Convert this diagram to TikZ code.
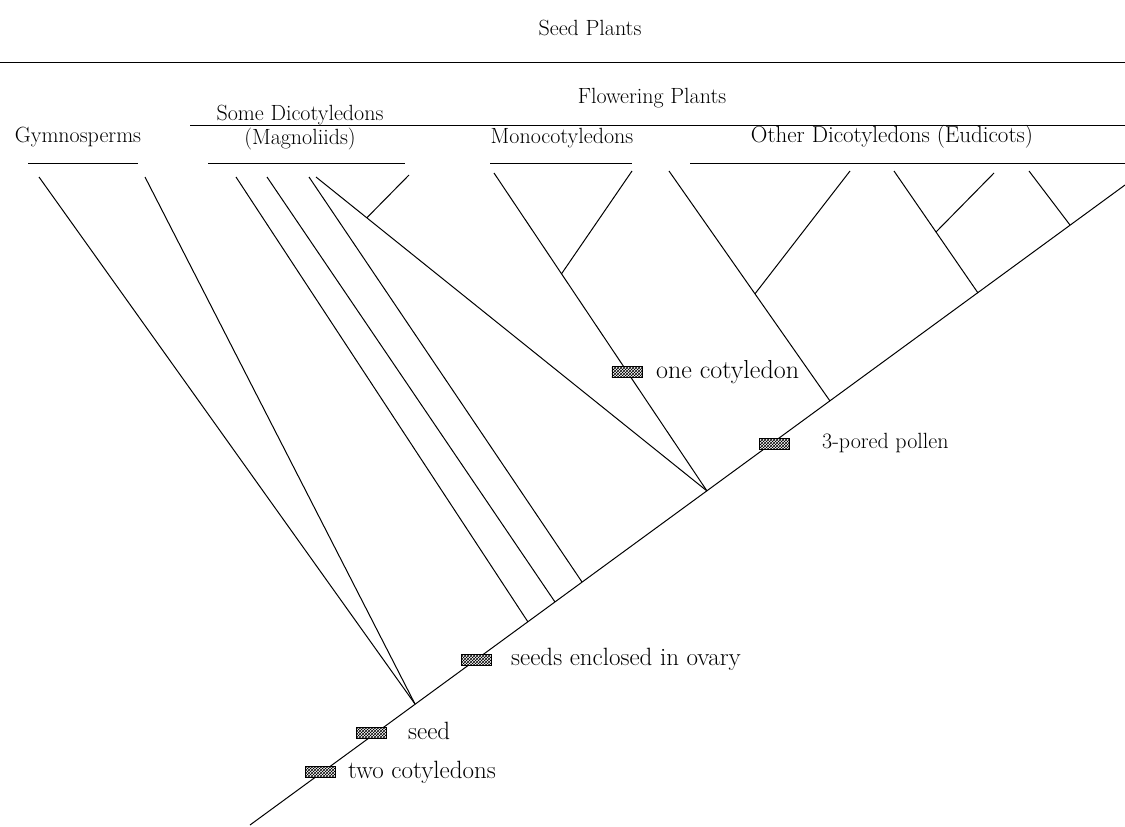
\documentclass[tikz,border=0pt]{standalone}
\usepackage{fontspec}
\usetikzlibrary{patterns,calc}
\begin{document}
\begin{tikzpicture}[x=1pt,y=-1pt,
  branch/.style={line width=1pt},
  rulel/.style={line width=1pt},
  grp/.style={inner sep=0pt, font=\fontsize{22}{24}\selectfont},
  note/.style={inner sep=0pt, anchor=west, font=\fontsize{25}{27}\selectfont},
  smallnote/.style={inner sep=0pt, anchor=west, font=\fontsize{22}{24}\selectfont},
  charmark/.style={draw, line width=0.8pt, preaction={fill=white}, pattern=crosshatch, minimum width=30pt, minimum height=11pt, inner sep=0pt}]
\useasboundingbox (0,0) rectangle (1125,827);

% group labels
\node[grp] (seedpl) at (590,28) {Seed Plants};
\node[grp] (flowpl) at (652,98) {Flowering Plants};
\node[grp] (gym) at (78,137) {Gymnosperms};
\node[grp, align=center] (mag) at (300,128) {Some Dicotyledons\\(Magnoliids)};
\node[grp] (mono) at (562,138) {Monocotyledons};
\node[grp, font=\fontsize{23}{25}\selectfont] (eud) at (892,137) {Other Dicotyledons (Eudicots)};

% horizontal rules
\coordinate (s1) at (0,62);    \coordinate (s2) at (1125,62);
\coordinate (f1) at (190,125); \coordinate (f2) at (1125,125);
\coordinate (g1) at (28,163);  \coordinate (g2) at (138,163);
\coordinate (m1) at (208,163); \coordinate (m2) at (405,163);
\coordinate (n1) at (490,163); \coordinate (n2) at (632,163);
\coordinate (e1) at (690,163); \coordinate (e2) at (1125,163);
\draw[rulel] (s1) -- (s2);
\draw[rulel] (f1) -- (f2);
\draw[rulel] (g1) -- (g2);
\draw[rulel] (m1) -- (m2);
\draw[rulel] (n1) -- (n2);
\draw[rulel] (e1) -- (e2);

% trunk
\coordinate (root) at (250,825);
\coordinate (tip) at (1125,185);
\draw[branch] (root) -- (tip);

% joins on trunk
\coordinate (jg) at (415,704);
\coordinate (jm1) at (528,622);
\coordinate (jm2) at (555,602);
\coordinate (jm3) at (582,582);
\coordinate (jmono) at (707,491);
\coordinate (je1) at (830,401);
\coordinate (je2) at (978,293);
\coordinate (je3) at (1070,225);

% leaf tops
\coordinate (tg1) at (39,177);
\coordinate (tg2) at (145,177);
\coordinate (tm1) at (236,177);
\coordinate (tm2) at (267,177);
\coordinate (tm3) at (309,177);
\coordinate (tm4) at (316,177);
\coordinate (tm5) at (409,175);
\coordinate (tn1) at (494,173);
\coordinate (tn2) at (632,171);
\coordinate (te1) at (669,171);
\coordinate (te2) at (850,171);
\coordinate (te3) at (894,171);
\coordinate (te4) at (994,173);
\coordinate (te5) at (1029,171);

% inner joins
\coordinate (jm45) at ($(tm4)!0.13!(jmono)$);
\coordinate (jn) at ($(tn1)!0.317!(jmono)$);
\coordinate (jea) at ($(te1)!0.534!(je1)$);
\coordinate (jeb) at ($(te3)!0.5!(je2)$);

% gymnosperms
\draw[branch] (tg1) -- (jg);
\draw[branch] (tg2) -- (jg);
% magnoliids
\draw[branch] (tm1) -- (jm1);
\draw[branch] (tm2) -- (jm2);
\draw[branch] (tm3) -- (jm3);
\draw[branch] (tm4) -- (jmono);
\draw[branch] (tm5) -- (jm45);
% monocots
\draw[branch] (tn1) -- (jmono);
\draw[branch] (tn2) -- (jn);
% eudicots
\draw[branch] (te1) -- (je1);
\draw[branch] (te2) -- (jea);
\draw[branch] (te3) -- (je2);
\draw[branch] (te4) -- (jeb);
\draw[branch] (te5) -- (je3);

% character marks
\node[charmark] (c2cot) at (320,772) {};
\node[charmark] (cseed) at (371,733) {};
\node[charmark] (covary) at (476,660) {};
\node[charmark] (c1cot) at ($(jn)!0.45!(jmono)$) {};
\node[charmark] (cpollen) at (774,444) {};

\node[note] (l2cot) at (348,772) {two cotyledons};
\node[note] (lseed) at (408,731) {seed};
\node[note] (lovary) at (511,659) {seeds enclosed in ovary};
\node[note, font=\fontsize{26}{28}\selectfont] (l1cot) at (656,372) {one cotyledon};
\node[smallnote] (lpollen) at (822,443) {3-pored pollen};
\end{tikzpicture}
\end{document}
